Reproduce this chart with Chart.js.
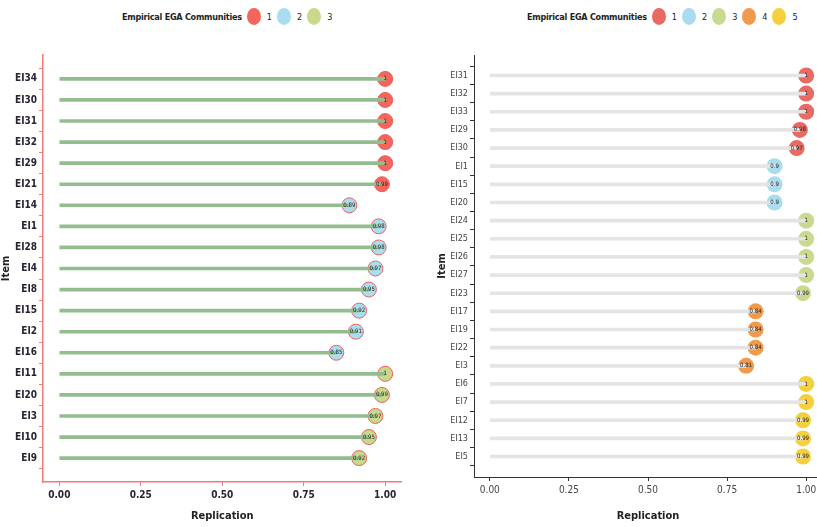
<!DOCTYPE html>
<html lang="en">
<head>
<meta charset="UTF-8">
<title>Item replication by EGA community</title>
<script src="https://cdn.jsdelivr.net/npm/chart.js@4.4.1/dist/chart.umd.min.js"></script>
<style>
  body { margin: 0; width: 817px; height: 527px; overflow: hidden; background: #fff;
         font-family: 'DejaVu Sans', sans-serif; font-stretch: condensed; }
  .legend { position: absolute; top: 8px; display: flex; align-items: center; font-size: 9px; color: #222; white-space: nowrap; }
  .legend b { margin-right: 0; font-size: 9px; letter-spacing: -0.25px; }
  .dot { width: 14px; height: 17px; border-radius: 50%; display: inline-block; margin: 0 6px 0 5px; }
  canvas { position: absolute; top: 40px; }
</style>
</head>
<body>
<div class="legend" id="legendLeft" style="left:122px"></div>
<div class="legend" id="legendRight" style="left:527px"></div>
<canvas id="leftChart" width="410" height="487" style="left:0"></canvas>
<canvas id="rightChart" width="420" height="487" style="left:410px"></canvas>

<script>
  // left panel: items, replication values, community membership
  const leftItems = ['EI34', 'EI30', 'EI31', 'EI32', 'EI29', 'EI21', 'EI14', 'EI1', 'EI28', 'EI4',
                     'EI8', 'EI15', 'EI2', 'EI16', 'EI11', 'EI20', 'EI3', 'EI10', 'EI9'];
  const leftValues = [1, 1, 1, 1, 1, 0.99, 0.89, 0.98, 0.98, 0.97,
                      0.95, 0.92, 0.91, 0.85, 1, 0.99, 0.97, 0.95, 0.92];
  const leftComm = [1, 1, 1, 1, 1, 1, 2, 2, 2, 2, 2, 2, 2, 2, 3, 3, 3, 3, 3];

  // right panel
  const rightItems = ['EI31', 'EI32', 'EI33', 'EI29', 'EI30', 'EI1', 'EI15', 'EI20', 'EI24', 'EI25', 'EI26',
                      'EI27', 'EI23', 'EI17', 'EI19', 'EI22', 'EI3', 'EI6', 'EI7', 'EI12', 'EI13', 'EI5'];
  const rightValues = [1, 1, 1, 0.98, 0.97, 0.9, 0.9, 0.9, 1, 1, 1,
                       1, 0.99, 0.84, 0.84, 0.84, 0.81, 1, 1, 0.99, 0.99, 0.99];
  const rightComm = [1, 1, 1, 1, 1, 2, 2, 2, 3, 3, 3, 3, 3, 4, 4, 4, 4, 5, 5, 5, 5, 5];

  const xTicks = [0, 0.25, 0.5, 0.75, 1];

  const leftPalette = ['#f2665c', '#a9ddef', '#c8d98b'];
  const rightPalette = ['#e86a62', '#a8dcee', '#c9da8f', '#f09a4e', '#f5cf3c'];

  const FONT = "'DejaVu Sans', sans-serif";

  function buildLegend(id, palette) {
    const el = document.getElementById(id);
    el.innerHTML = '<b>Empirical EGA Communities</b>' +
      palette.map((c, i) => `<span class="dot" style="background:${c}"></span>${i + 1}`).join('');
  }
  buildLegend('legendLeft', leftPalette);
  buildLegend('legendRight', rightPalette);

  // writes each value inside its point
  const valueLabels = {
    id: 'valueLabels',
    afterDatasetsDraw(chart, args, opts) {
      const meta = chart.getDatasetMeta(1);
      const ctx = chart.ctx;
      ctx.save();
      ctx.font = `normal normal condensed ${opts.size}px ${FONT}`;
      ctx.fillStyle = '#222';
      ctx.textAlign = 'center';
      ctx.textBaseline = 'middle';
      meta.data.forEach((pt, i) => {
        ctx.fillText(String(chart.data.datasets[1].data[i].x), pt.x, pt.y);
      });
      ctx.restore();
    }
  };

  function makeChart(canvasId, items, values, comm, palette, cfg) {
    const n = items.length;
    const tickFont = { family: FONT, size: cfg.tickSize, style: 'normal', weight: cfg.tickWeight + ' condensed' };
    const titleFont = { family: FONT, size: 11, style: 'normal', weight: 'bold condensed' };
    return new Chart(document.getElementById(canvasId), {
      type: 'bar',
      data: {
        datasets: [{
          type: 'bar',
          data: values.map((v, i) => ({ x: v, y: i })),
          backgroundColor: cfg.stick,
          barThickness: cfg.stickWidth,
          indexAxis: 'y'
        }, {
          type: 'scatter',
          data: values.map((v, i) => ({ x: v, y: i })),
          pointRadius: cfg.radius,
          pointBackgroundColor: comm.map(c => palette[c - 1]),
          pointBorderColor: cfg.pointBorder,
          pointBorderWidth: cfg.pointBorderWidth
        }]
      },
      options: {
        responsive: false,
        animation: false,
        indexAxis: 'y',
        layout: { padding: cfg.padding },
        plugins: {
          legend: { display: false },
          tooltip: { enabled: false },
          valueLabels: { size: cfg.labelSize }
        },
        scales: {
          x: {
            type: 'linear', min: -0.05, max: 1.05,
            afterBuildTicks: s => { s.ticks = xTicks.map(v => ({ value: v })); },
            afterFit: s => { s.height = cfg.xHeight; },
            ticks: { callback: v => v.toFixed(2), font: { ...tickFont, size: 10 }, color: cfg.tickColor, padding: 3 },
            grid: { drawOnChartArea: false, tickLength: 4, color: cfg.axis },
            border: { color: cfg.axis, width: cfg.axisWidth },
            title: { display: true, text: 'Replication', font: titleFont, color: '#222', padding: { top: 8 } }
          },
          y: {
            type: 'linear', reverse: true, min: -0.6, max: n - 0.4,
            afterBuildTicks: s => { s.ticks = items.map((_, i) => ({ value: i })); },
            afterFit: s => { s.width = cfg.yWidth; },
            ticks: { callback: v => items[v], font: tickFont, color: cfg.tickColor, padding: 2, autoSkip: false },
            grid: { drawOnChartArea: false, tickLength: 4, color: cfg.axis },
            border: { color: cfg.axis, width: cfg.axisWidth },
            title: { display: true, text: 'Item', font: titleFont, color: '#222', padding: 0 }
          }
        }
      },
      plugins: [valueLabels]
    });
  }

  makeChart('leftChart', leftItems, leftValues, leftComm, leftPalette, {
    stick: '#93bd8e', stickWidth: 3, radius: 7.5, pointBorder: '#ef5f5f', pointBorderWidth: 1,
    axis: '#f27a72', axisWidth: 1.5, tickColor: '#2a2233', tickWeight: 'bold', tickSize: 10, labelSize: 6,
    padding: { left: 0, right: 5, top: 15, bottom: 0 }, xHeight: 45, yWidth: 43
  });

  makeChart('rightChart', rightItems, rightValues, rightComm, rightPalette, {
    stick: '#e4e4e4', stickWidth: 3, radius: 8, pointBorder: 'rgba(0,0,0,0)', pointBorderWidth: 0,
    axis: '#333', axisWidth: 1, tickColor: '#444', tickWeight: 'normal', tickSize: 9, labelSize: 6,
    padding: { left: 26, right: 6, top: 15, bottom: 0 }, xHeight: 50, yWidth: 38
  });
</script>
</body>
</html>
